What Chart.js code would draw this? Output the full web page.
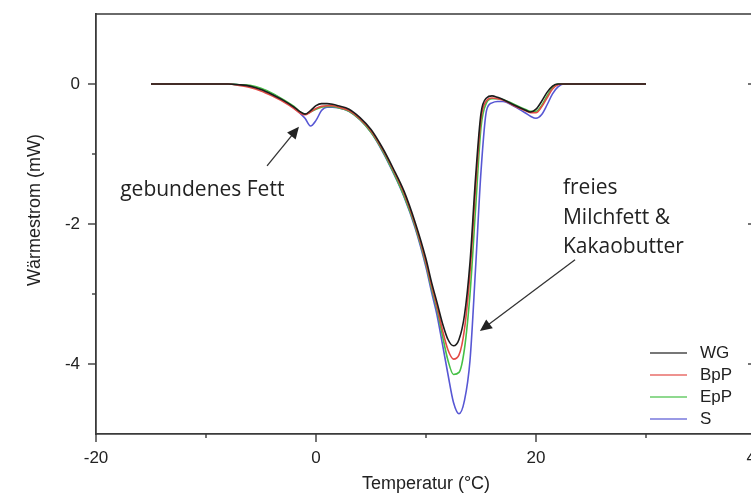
<!DOCTYPE html>
<html lang="de">
<head>
<meta charset="UTF-8">
<title>DSC Wärmestrom</title>
<script src="https://cdn.jsdelivr.net/npm/chart.js@4"></script>
<style>
  html, body { margin: 0; padding: 0; background: #fff; overflow: hidden; }
  #wrap { position: relative; width: 800px; height: 498px; }
</style>
</head>
<body>
<div id="wrap"><canvas id="dsc"></canvas></div>
<script>
// Temperatur (°C), shared by all curves
const temps = [-15, -10, -8, -7, -6, -5, -4, -3, -2, -1.5, -1, -0.5, 0, 0.5, 1, 1.5, 2, 3, 4, 5,
               6, 7, 8, 9, 10, 10.5, 11, 11.5, 12, 12.5, 13, 13.5, 14, 14.5, 15, 15.5, 16, 16.5, 17, 18,
               19, 19.5, 20, 20.5, 21, 21.5, 22, 22.5, 23, 25, 30];

// Wärmestrom (mW)
const wg  = [0, 0, 0, -0.01, -0.03, -0.08, -0.15, -0.23, -0.33, -0.39, -0.43, -0.38, -0.31, -0.28, -0.28, -0.29, -0.31, -0.36, -0.48, -0.65,
             -0.9, -1.2, -1.53, -1.97, -2.5, -2.83, -3.12, -3.42, -3.65, -3.74, -3.65, -3.3, -2.55, -1.35, -0.42, -0.2, -0.17, -0.19, -0.22, -0.3,
             -0.37, -0.4, -0.36, -0.25, -0.12, -0.03, 0, 0, 0, 0, 0];
const bpp = [0, 0, 0, -0.02, -0.05, -0.1, -0.17, -0.25, -0.35, -0.41, -0.44, -0.4, -0.35, -0.32, -0.31, -0.31, -0.33, -0.38, -0.5, -0.67,
             -0.92, -1.22, -1.56, -2.0, -2.55, -2.88, -3.18, -3.52, -3.8, -3.93, -3.87, -3.5, -2.7, -1.5, -0.5, -0.24, -0.2, -0.21, -0.23, -0.31,
             -0.38, -0.41, -0.41, -0.33, -0.2, -0.07, -0.01, 0, 0, 0, 0];
const epp = [0, 0, 0, -0.01, -0.02, -0.06, -0.13, -0.22, -0.32, -0.39, -0.43, -0.4, -0.36, -0.33, -0.32, -0.32, -0.34, -0.39, -0.51, -0.69,
             -0.94, -1.25, -1.6, -2.03, -2.58, -2.92, -3.22, -3.6, -3.95, -4.15, -4.12, -3.78, -3.0, -1.8, -0.62, -0.27, -0.21, -0.21, -0.22, -0.29,
             -0.36, -0.39, -0.39, -0.31, -0.17, -0.05, 0, 0, 0, 0, 0];
const s   = [0, 0, 0, -0.01, -0.03, -0.07, -0.14, -0.23, -0.34, -0.41, -0.49, -0.6, -0.52, -0.38, -0.33, -0.33, -0.34, -0.39, -0.51, -0.69,
             -0.95, -1.26, -1.61, -2.05, -2.62, -2.97, -3.3, -3.72, -4.15, -4.55, -4.71, -4.52, -3.95, -2.65, -1.25, -0.38, -0.27, -0.25, -0.25, -0.32,
             -0.41, -0.46, -0.49, -0.44, -0.3, -0.14, -0.04, 0, 0, 0, 0];

const seriesNames = ['WG', 'BpP', 'EpP', 'S'];
const xTickValues = [-20, 0, 20, 40];
const xMinorTicks = [-10, 10, 30];
const yTickValues = [-4, -2, 0];
const yMinorTicks = [-3, -1];

const colors = ['#1c1c1c', '#e24a45', '#45c045', '#5757d4'];
const axisFont = { family: "'Liberation Sans', Arial, sans-serif", size: 17 };
const titleFont = { family: "'Liberation Sans', Arial, sans-serif", size: 18 };
const noteFont = "21px 'Open Sans', 'Noto Sans', sans-serif";

function toPoints(ys) {
    return temps.map((t, i) => ({ x: t, y: ys[i] }));
}

function arrow(ctx, x1, y1, x2, y2) {
    const ang = Math.atan2(y2 - y1, x2 - x1);
    const c = Math.cos(ang), sn = Math.sin(ang);
    const len = 12, half = 5.5;
    ctx.beginPath();
    ctx.moveTo(x1, y1);
    ctx.lineTo(x2 - c * len * 0.8, y2 - sn * len * 0.8);
    ctx.stroke();
    ctx.beginPath();
    ctx.moveTo(x2, y2);
    ctx.lineTo(x2 - c * len + sn * half, y2 - sn * len - c * half);
    ctx.lineTo(x2 - c * len - sn * half, y2 - sn * len + c * half);
    ctx.closePath();
    ctx.fill();
}

// frame, ticks, y title, notes and legend
const decor = {
    id: 'decor',
    afterDraw(chart) {
        const { ctx, chartArea: a, scales: { x, y } } = chart;
        ctx.save();
        ctx.strokeStyle = '#3a3a3a';
        ctx.lineWidth = 1.6;
        ctx.beginPath();
        ctx.moveTo(a.left, a.top);
        ctx.lineTo(a.right, a.top);
        ctx.lineTo(a.right, a.bottom);
        ctx.stroke();

        const seg = (x1, y1, x2, y2) => { ctx.beginPath(); ctx.moveTo(x1, y1); ctx.lineTo(x2, y2); ctx.stroke(); };
        ctx.lineWidth = 1.4;
        xTickValues.forEach(v => { const px = x.getPixelForValue(v); seg(px, a.bottom, px, a.bottom + 8); });
        xMinorTicks.forEach(v => { const px = x.getPixelForValue(v); seg(px, a.bottom, px, a.bottom + 4); });
        yTickValues.forEach(v => {
            const py = y.getPixelForValue(v);
            seg(a.left - 8, py, a.left, py);
            seg(a.right, py, a.right - 8, py);
        });
        yMinorTicks.forEach(v => {
            const py = y.getPixelForValue(v);
            seg(a.left - 4, py, a.left, py);
            seg(a.right, py, a.right - 4, py);
        });

        // y title sits a bit above the axis middle in the original
        ctx.fillStyle = '#222';
        ctx.font = `${titleFont.size}px ${titleFont.family}`;
        ctx.textAlign = 'center';
        ctx.textBaseline = 'middle';
        ctx.translate(35, y.getPixelForValue(-1.8));
        ctx.rotate(-Math.PI / 2);
        ctx.fillText('Wärmestrom (mW)', 0, 0);
        ctx.setTransform(1, 0, 0, 1, 0, 0);

        // annotations, anchored in data units
        ctx.font = noteFont;
        ctx.textBaseline = 'alphabetic';
        ctx.textAlign = 'left';
        ctx.fillText('gebundenes Fett', x.getPixelForValue(-17.8), y.getPixelForValue(-1.6));
        ['freies', 'Milchfett &', 'Kakaobutter'].forEach((line, i) => {
            ctx.fillText(line, x.getPixelForValue(22.45), y.getPixelForValue([-1.57, -2.0, -2.41][i]));
        });
        ctx.strokeStyle = '#333';
        ctx.lineWidth = 1.3;
        arrow(ctx, x.getPixelForValue(-4.45), y.getPixelForValue(-1.17), x.getPixelForValue(-1.55), y.getPixelForValue(-0.61));
        arrow(ctx, x.getPixelForValue(23.55), y.getPixelForValue(-2.51), x.getPixelForValue(14.9), y.getPixelForValue(-3.53));

        // legend
        ctx.font = `${axisFont.size}px ${axisFont.family}`;
        ctx.textBaseline = 'middle';
        seriesNames.forEach((name, i) => {
            const ly = 353 + i * 22;
            ctx.globalAlpha = 0.6;
            ctx.strokeStyle = colors[i];
            ctx.lineWidth = 2;
            seg(650, ly, 687, ly);
            ctx.globalAlpha = 1;
            ctx.fillStyle = '#222';
            ctx.fillText(name, 700, ly);
        });
        ctx.restore();
    }
};

new Chart(document.getElementById('dsc'), {
    type: 'line',
    data: {
        datasets: [wg, bpp, epp, s].map((ys, i) => ({
            label: seriesNames[i],
            data: toPoints(ys),
            borderColor: colors[i],
            borderWidth: 1.6,
            pointRadius: 0,
            cubicInterpolationMode: 'monotone',
            fill: false
        }))
    },
    options: {
        responsive: true,
        maintainAspectRatio: false,
        animation: false,
        layout: { padding: { top: 14, right: 44, left: 0, bottom: 0 }, autoPadding: false },
        plugins: { legend: { display: false }, tooltip: { enabled: false } },
        scales: {
            x: {
                type: 'linear',
                min: -20,
                max: 40,
                grid: { display: false, drawTicks: false },
                border: { display: true, color: '#3a3a3a', width: 1.8 },
                afterBuildTicks: sc => { sc.ticks = xTickValues.map(v => ({ value: v })); },
                afterFit: sc => { sc.height = 64; sc.paddingLeft = 0; sc.paddingRight = 0; },
                ticks: { font: axisFont, color: '#222', padding: 14, maxRotation: 0, autoSkip: false },
                title: { display: true, text: 'Temperatur (°C)', font: titleFont, color: '#222', padding: { top: 0, bottom: 3 } }
            },
            y: {
                min: -5,
                max: 1,
                grid: { display: false, drawTicks: false },
                border: { display: true, color: '#3a3a3a', width: 1.8 },
                afterBuildTicks: sc => { sc.ticks = yTickValues.map(v => ({ value: v })); },
                afterFit: sc => { sc.width = 96; sc.paddingTop = 0; sc.paddingBottom = 0; },
                ticks: { font: axisFont, color: '#222', padding: 16, autoSkip: false }
            }
        }
    },
    plugins: [decor]
});
</script>
</body>
</html>
